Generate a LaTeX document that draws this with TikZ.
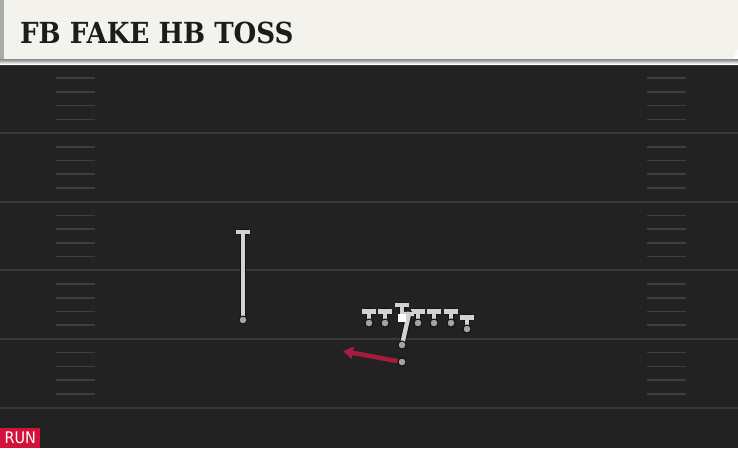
\documentclass[tikz,border=0pt]{standalone}
\usepackage{fontspec}
\setmainfont{DejaVu Serif}
\newfontfamily\titlefont{DejaVu Serif Condensed}
\newfontfamily\tagfont{DejaVu Sans Condensed}
\usetikzlibrary{arrows.meta}
\pgfdeclarelayer{front}
\pgfsetlayers{main,front}

\definecolor{turf}{HTML}{222222}
\definecolor{yardline}{HTML}{3A3A3A}
\definecolor{hashline}{HTML}{3E3E3E}
\definecolor{cream}{HTML}{F4F2EC}
\definecolor{stripgray}{HTML}{ABABAB}
\definecolor{shade}{HTML}{141414}
\definecolor{ink}{HTML}{1C1C1C}
\definecolor{routegray}{HTML}{D2D2D2}
\definecolor{edgeblack}{HTML}{111111}
\definecolor{dotgray}{HTML}{A4A4A4}
\definecolor{runred}{HTML}{A51C3F}
\definecolor{tagred}{HTML}{D3123B}

\begin{document}
\begin{tikzpicture}[x=1pt,y=-1pt,
	route/.style={draw=routegray, line width=4.4pt, line cap=rect, preaction={draw=edgeblack, line width=6.4pt}},
	dot/.style={shape=circle, fill=dotgray, draw=edgeblack, line width=1pt, inner sep=0pt, minimum size=8pt},
	hash/.style={draw=hashline, line width=1.6pt}]
				\useasboundingbox (0,0) rectangle (738,448);
				
				% field
				\fill[turf] (0,59) rectangle (738,448);
				\foreach \y in {64.5,133.1,201.7,270.3,338.9,407.5}
					\draw[yardline, line width=2pt] (0,\y) -- (738,\y);
				\foreach \k in {0,...,4}
					\foreach \j in {1,...,4} {
						\draw[hash] (56,{64.5+68.6*\k+13.72*\j}) -- (95,{64.5+68.6*\k+13.72*\j});
						\draw[hash] (647,{64.5+68.6*\k+13.72*\j}) -- (686,{64.5+68.6*\k+13.72*\j});
					}
				
				% banner
				\fill[shade] (0,59) rectangle (738,64);
				\fill[cream] (0,0) -- (738,0) -- (738,48) -- (733,59) -- (0,59) -- cycle;
				\fill[stripgray] (0,0) rectangle (4,59);
				\node[anchor=base west, inner sep=0pt, text=ink, font=\titlefont\bfseries\fontsize{29}{29}\selectfont] (title) at (20,43) {FB FAKE HB TOSS};
				
				% players
				\begin{pgfonlayer}{front}
				\node[dot] (1) at (369,323) {};
				\node[dot] (2) at (385,323) {};
				\node[shape=rectangle, fill=white, minimum size=8pt, inner sep=0pt] (c) at (402,318) {};
				\node[dot] (4) at (418,323) {};
				\node[dot] (5) at (434,323) {};
				\node[dot] (6) at (451,323) {};
				\node[dot] (7) at (467,329) {};
				\node[dot] (fb) at (402,345) {};
				\node[dot] (hb) at (402,362) {};
				\node[dot] (wr) at (243,320) {};
				\end{pgfonlayer}
				
				\coordinate (b1) at (369,311.5);
				\coordinate (b2) at (385,311.5);
				\coordinate (bc) at (402,305);
				\coordinate (b4) at (418,311.5);
				\coordinate (b5) at (434,311.5);
				\coordinate (b6) at (451,311.5);
				\coordinate (b7) at (467,317.5);
				\coordinate (fake) at (409,314);
				\coordinate (toss) at (343,351);
				\coordinate (go) at (243,232);
				
				\draw[route] (1) -- (b1) ++(-4.5,0) -- ++(9,0);
				\draw[route] (2) -- (b2) ++(-4.5,0) -- ++(9,0);
				\draw[route] (c) -- (bc) ++(-4.5,0) -- ++(9,0);
				\draw[route] (4) -- (b4) ++(-4.5,0) -- ++(9,0);
				\draw[route] (5) -- (b5) ++(-4.5,0) -- ++(9,0);
				\draw[route] (6) -- (b6) ++(-4.5,0) -- ++(9,0);
				\draw[route] (7) -- (b7) ++(-4.5,0) -- ++(9,0);
				\draw[route] (fb) -- (fake) ++(-3,0) -- ++(6,0);
				\draw[route] (wr) -- (go) ++(-4.5,0) -- ++(9,0);
				\draw[runred, line width=4.5pt, -{Triangle[length=10pt,width=12pt]}] (hb) -- (toss);
				
				\node[anchor=south west, fill=tagred, text=white, minimum width=40pt, minimum height=20pt, inner sep=0pt, font=\tagfont\fontsize{16}{16}\selectfont] (run) at (0,448) {RUN};
			\end{tikzpicture}
\end{document}
